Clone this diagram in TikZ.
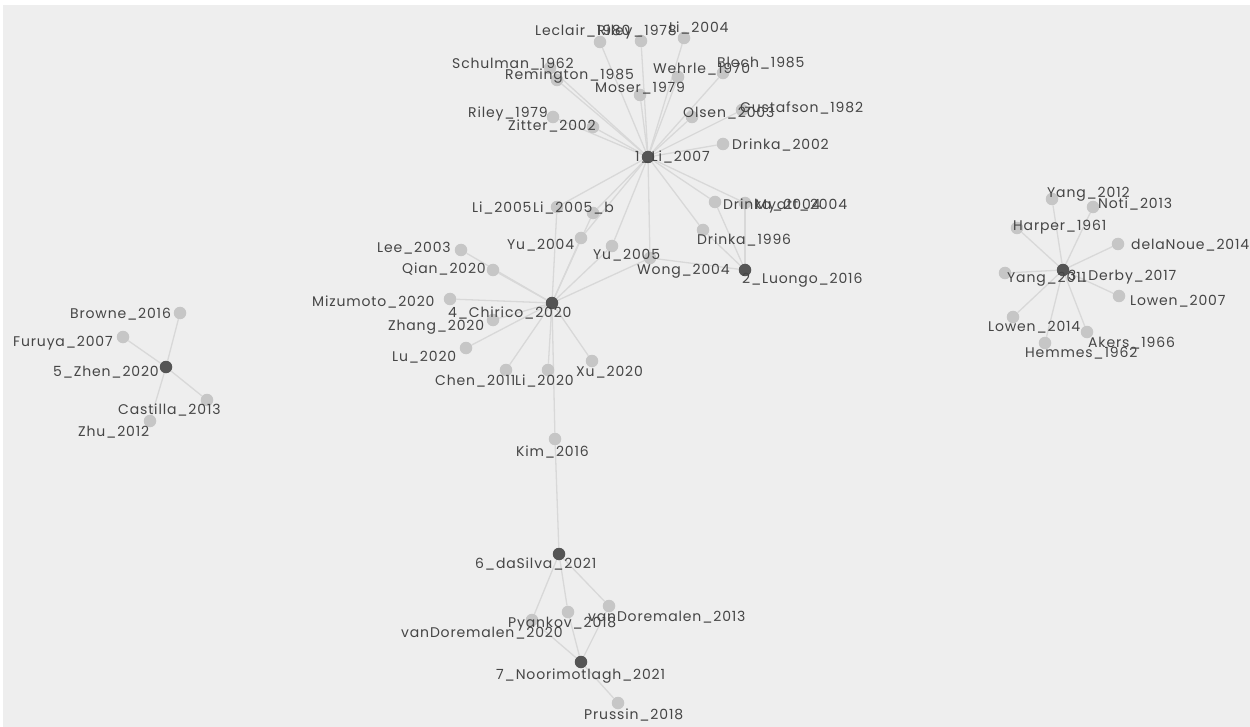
\documentclass[tikz,border=0pt]{standalone}
\usepackage{fontspec}
\setmainfont{Poppins}
\newfontfamily\labfont[LetterSpace=6]{Poppins}
\usetikzlibrary{backgrounds}
\definecolor{bgc}{HTML}{EEEEEE}
\definecolor{edgec}{HTML}{D8D8D8}
\definecolor{litc}{HTML}{C6C6C6}
\definecolor{darkc}{HTML}{555555}
\definecolor{txtc}{HTML}{454545}
\begin{document}
\begin{tikzpicture}[x=1pt,y=-1pt,
  lit/.style={circle,fill=litc,inner sep=0pt,minimum size=12.5pt},
  hub/.style={circle,fill=darkc,inner sep=0pt,minimum size=12.5pt},
  lab/.style={anchor=west,inner sep=0pt,text=txtc,font=\labfont\fontsize{14}{14}\selectfont,text height=9.8pt,text depth=0pt},
  link/.style={draw=edgec,line width=1.3pt}]
\useasboundingbox (0,0) rectangle (1250,727);
% dots
\node[hub] (hubA) at (648,157) {};
\node[lit] (leclair) at (600,42) {};
\node[lit] (rileyA) at (641,41) {};
\node[lit] (liC) at (684,38) {};
\node[lit] (schulman) at (550,68) {};
\node[lit] (remington) at (557,80) {};
\node[lit] (moser) at (640,95) {};
\node[lit] (wehrle) at (678,77) {};
\node[lit] (bloch) at (723,73) {};
\node[lit] (rileyB) at (553,117) {};
\node[lit] (zitter) at (593,127) {};
\node[lit] (olsen) at (692,117) {};
\node[lit] (gustafson) at (742,110) {};
\node[lit] (drinkaA) at (723,144) {};
\node[lit] (liA) at (557,207) {};
\node[lit] (liB) at (593,213) {};
\node[lit] (yuA) at (581,238) {};
\node[lit] (yuB) at (612,246) {};
\node[lit] (wong) at (650,258) {};
\node[lit] (drinkaB) at (715,202) {};
\node[lit] (myatt) at (745,203) {};
\node[lit] (drinkaC) at (703,230) {};
\node[hub] (hubB) at (745,270) {};
\node[hub] (hubD) at (552,303) {};
\node[lit] (lee) at (461,250) {};
\node[lit] (qian) at (493,270) {};
\node[lit] (mizumoto) at (450,299) {};
\node[lit] (zhang) at (493,320) {};
\node[lit] (lu) at (466,348) {};
\node[lit] (chen) at (506,370) {};
\node[lit] (liD) at (548,370) {};
\node[lit] (xu) at (592,361) {};
\node[lit] (kim) at (555,439) {};
\node[hub] (hubF) at (559,554) {};
\node[lit] (vdA) at (609,606) {};
\node[lit] (pyankov) at (568,612) {};
\node[lit] (vdB) at (532,620) {};
\node[hub] (hubG) at (581,662) {};
\node[lit] (prussin) at (618,703) {};
\node[hub] (hubE) at (166,367) {};
\node[lit] (browne) at (180,313) {};
\node[lit] (furuya) at (123,337) {};
\node[lit] (castilla) at (207,400) {};
\node[lit] (zhu) at (150,421) {};
\node[hub] (hubC) at (1063,270) {};
\node[lit] (yangA) at (1052,199) {};
\node[lit] (noti) at (1093,207) {};
\node[lit] (harper) at (1017,228) {};
\node[lit] (delanoue) at (1118,244) {};
\node[lit] (yangB) at (1005,273) {};
\node[lit] (lowenA) at (1119,296) {};
\node[lit] (lowenB) at (1013,317) {};
\node[lit] (akers) at (1087,332) {};
\node[lit] (hemmes) at (1045,343) {};
% edges
\begin{pgfonlayer}{background}
\fill[white] (0,0) rectangle (1250,727);
\fill[bgc] (3,5) rectangle (1250,727);
\foreach \n in {leclair,rileyA,liC,schulman,remington,moser,wehrle,bloch,rileyB,zitter,olsen,gustafson,drinkaA,liA,liB,yuA,yuB,wong,drinkaB,myatt,drinkaC}
  \draw[link] (hubA) -- (\n);
\foreach \n in {drinkaB,myatt,drinkaC,wong}
  \draw[link] (hubB) -- (\n);
\foreach \n in {liA,liB,yuA,yuB,wong,lee,qian,mizumoto,zhang,lu,chen,liD,xu,kim}
  \draw[link] (hubD) -- (\n);
\foreach \n in {kim,vdA,pyankov,vdB}
  \draw[link] (hubF) -- (\n);
\foreach \n in {vdA,pyankov,vdB,prussin}
  \draw[link] (hubG) -- (\n);
\foreach \n in {browne,furuya,castilla,zhu}
  \draw[link] (hubE) -- (\n);
\foreach \n in {yangA,noti,harper,delanoue,yangB,lowenA,lowenB,akers,hemmes}
  \draw[link] (hubC) -- (\n);
\end{pgfonlayer}
% labels
\node[lab] (hubAL) at (635,157) {1\_Li\_2007};
\node[lab] (leclairL) at (535,31) {Leclair\_1980};
\node[lab] (rileyAL) at (597,31) {Riley\_1978};
\node[lab] (liCL) at (669,28) {Li\_2004};
\node[lab] (schulmanL) at (452,64) {Schulman\_1962};
\node[lab] (remingtonL) at (505,75) {Remington\_1985};
\node[lab] (moserL) at (595,88) {Moser\_1979};
\node[lab] (wehrleL) at (653,69) {Wehrle\_1970};
\node[lab] (blochL) at (717,63) {Bloch\_1985};
\node[lab] (rileyBL) at (468,113) {Riley\_1979};
\node[lab] (zitterL) at (508,126) {Zitter\_2002};
\node[lab] (olsenL) at (683,113) {Olsen\_2003};
\node[lab] (gustafsonL) at (740,108) {Gustafson\_1982};
\node[lab] (drinkaAL) at (732,145) {Drinka\_2002};
\node[lab] (liAL) at (472,208) {Li\_2005};
\node[lab] (liBL) at (533,208) {Li\_2005\_b};
\node[lab] (yuAL) at (507,245) {Yu\_2004};
\node[lab] (yuBL) at (593,255) {Yu\_2005};
\node[lab] (wongL) at (637,270) {Wong\_2004};
\node[lab] (drinkaBL) at (723,205) {Drinka\_2004};
\node[lab] (myattL) at (755,205) {Myatt\_2004};
\node[lab] (drinkaCL) at (697,240) {Drinka\_1996};
\node[lab] (hubBL) at (742,279) {2\_Luongo\_2016};
\node[lab] (hubDL) at (448,313) {4\_Chirico\_2020};
\node[lab] (leeL) at (377,248) {Lee\_2003};
\node[lab] (qianL) at (402,269) {Qian\_2020};
\node[lab] (mizumotoL) at (312,302) {Mizumoto\_2020};
\node[lab] (zhangL) at (388,326) {Zhang\_2020};
\node[lab] (luL) at (392,357) {Lu\_2020};
\node[lab] (chenL) at (435,381) {Chen\_2011};
\node[lab] (liDL) at (515,381) {Li\_2020};
\node[lab] (xuL) at (576,372) {Xu\_2020};
\node[lab] (kimL) at (516,452) {Kim\_2016};
\node[lab] (hubFL) at (475,564) {6\_daSilva\_2021};
\node[lab] (vdAL) at (588,617) {vanDoremalen\_2013};
\node[lab] (pyankovL) at (508,623) {Pyankov\_2018};
\node[lab] (vdBL) at (401,633) {vanDoremalen\_2020};
\node[lab] (hubGL) at (496,675) {7\_Noorimotlagh\_2021};
\node[lab] (prussinL) at (584,715) {Prussin\_2018};
\node[lab] (hubEL) at (53,372) {5\_Zhen\_2020};
\node[lab] (browneL) at (70,314) {Browne\_2016};
\node[lab] (furuyaL) at (13,342) {Furuya\_2007};
\node[lab] (castillaL) at (118,410) {Castilla\_2013};
\node[lab] (zhuL) at (78,432) {Zhu\_2012};
\node[lab] (hubCL) at (1068,276) {3\_Derby\_2017};
\node[lab] (yangAL) at (1047,193) {Yang\_2012};
\node[lab] (notiL) at (1098,204) {Noti\_2013};
\node[lab] (harperL) at (1013,226) {Harper\_1961};
\node[lab] (delanoueL) at (1131,245) {delaNoue\_2014};
\node[lab] (yangBL) at (1007,278) {Yang\_2011};
\node[lab] (lowenAL) at (1130,301) {Lowen\_2007};
\node[lab] (lowenBL) at (988,327) {Lowen\_2014};
\node[lab] (akersL) at (1088,343) {Akers\_1966};
\node[lab] (hemmesL) at (1025,353) {Hemmes\_1962};
\end{tikzpicture}
\end{document}
